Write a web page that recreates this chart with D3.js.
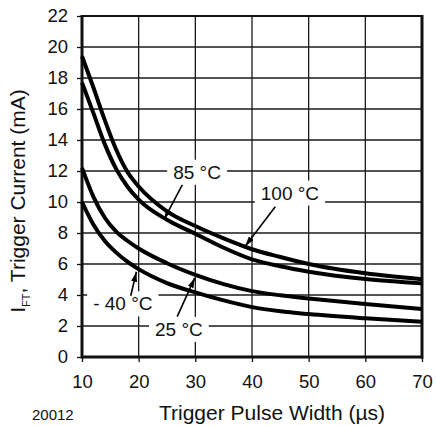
<!DOCTYPE html>
<html><head><meta charset="utf-8">
<script src="https://cdn.jsdelivr.net/npm/d3@7/dist/d3.min.js"></script>
<style>body{margin:0;background:#fff}svg{display:block}text{font-family:"Liberation Sans",Arial,Helvetica,sans-serif;fill:#111}</style>
</head><body><svg id="c" width="436" height="426"></svg>
<script>
const pulseWidth = [10,12,14,16,18,20,25,30,35,40,45,50,60,70];
const current100 = [19.4,17.4,15.3,13.4,11.95,11.0,9.4,8.45,7.65,6.95,6.45,6.0,5.4,5.02];
const current85  = [17.7,15.75,13.75,12.15,11.0,10.15,8.85,7.95,7.05,6.3,5.85,5.5,5.03,4.75];
const current25  = [12.2,10.35,9.0,8.1,7.5,7.0,6.05,5.3,4.7,4.25,3.98,3.78,3.42,3.1];
const currentM40 = [10.0,8.55,7.5,6.75,6.15,5.67,4.77,4.17,3.65,3.22,2.95,2.77,2.5,2.28];
const xTicks = [10,20,30,40,50,60,70];
const yTicks = [0,2,4,6,8,10,12,14,16,18,20,22];
const labelText = ["100 °C","85 °C","25 °C","- 40 °C"];
const labelX = [46.7,30.3,27.1,17.2];
const labelY = [10.6,11.94,1.8,3.45];
const arrowFromX = [44.1,27.7,26.8,18.6];
const arrowFromY = [9.7,11.1,2.6,3.95];
const arrowToX = [38.8,24.5,29.9,19.6];
const arrowToY = [7.15,8.9,5.1,5.5];

const W=436,H=426,m={l:82,r:14,t:16,b:69};
const svg=d3.select("#c");
const x=d3.scaleLinear().domain([10,70]).range([m.l,W-m.r]);
const y=d3.scaleLinear().domain([0,22]).range([H-m.b,m.t]);

// grid
const g=svg.append("g");
g.selectAll(".vx").data(xTicks.slice(1,-1)).join("line")
 .attr("x1",d=>x(d)).attr("x2",d=>x(d)).attr("y1",y(0)).attr("y2",y(22))
 .attr("stroke","#1a1a1a").attr("stroke-width",1.3);
g.selectAll(".hy").data(yTicks.slice(1,-1)).join("line")
 .attr("y1",d=>y(d)).attr("y2",d=>y(d)).attr("x1",x(10)).attr("x2",x(70))
 .attr("stroke","#1a1a1a").attr("stroke-width",1.3);

// axes
const xa=svg.append("g").attr("transform",`translate(0,${y(0)})`)
 .call(d3.axisBottom(x).tickValues(xTicks).tickSize(5).tickPadding(13).tickSizeOuter(0));
const ya=svg.append("g").attr("transform",`translate(${x(10)},0)`)
 .call(d3.axisLeft(y).tickValues(yTicks).tickSize(5).tickPadding(9).tickSizeOuter(0));
[xa,ya].forEach(a=>{a.select(".domain").remove();a.selectAll("line").attr("stroke","#111").attr("stroke-width",1.3);
 a.selectAll("text").attr("font-size",18.5).attr("font-family","Liberation Sans, Arial, sans-serif").attr("fill","#111");});

// frame
svg.append("line").attr("x1",x(10)).attr("x2",x(70)).attr("y1",y(22)).attr("y2",y(22)).attr("stroke","#111").attr("stroke-width",2.2);
svg.append("line").attr("x1",x(10)).attr("x2",x(70)).attr("y1",y(0)).attr("y2",y(0)).attr("stroke","#111").attr("stroke-width",3);
svg.append("line").attr("x1",x(10)).attr("x2",x(10)).attr("y1",y(0)+1.5).attr("y2",y(22)-1).attr("stroke","#111").attr("stroke-width",3);
svg.append("line").attr("x1",x(70)).attr("x2",x(70)).attr("y1",y(0)+1.5).attr("y2",y(22)-1).attr("stroke","#111").attr("stroke-width",3);

// label boxes
const lg=svg.append("g");
labelText.forEach((t,i)=>{
  const tx=lg.append("text").attr("x",x(labelX[i])).attr("y",y(labelY[i])).attr("dy","0.36em")
    .attr("text-anchor","middle").attr("font-size",19).text(t);
  const b=tx.node().getBBox();
  lg.insert("rect","text").attr("x",b.x-6).attr("y",b.y-2).attr("width",b.width+12).attr("height",b.height+4).attr("fill","#fff");
});

// curves
const series=[current100,current85,current25,currentM40];
const line=d3.line().x((d,i)=>x(pulseWidth[i])).y(d=>y(d)).curve(d3.curveMonotoneX);
svg.append("g").selectAll("path").data(series).join("path")
 .attr("d",line).attr("fill","none").attr("stroke","#000").attr("stroke-width",4).attr("stroke-linejoin","round");

// arrows
svg.append("defs").append("marker").attr("id","ah").attr("viewBox","0 0 10 6").attr("refX",10).attr("refY",3)
 .attr("markerWidth",10).attr("markerHeight",6).attr("markerUnits","userSpaceOnUse").attr("orient","auto")
 .append("path").attr("d","M0,0L10,3L0,6Z").attr("fill","#000");
svg.append("g").selectAll("line").data(labelText).join("line")
 .attr("x1",(d,i)=>x(arrowFromX[i])).attr("y1",(d,i)=>y(arrowFromY[i]))
 .attr("x2",(d,i)=>x(arrowToX[i])).attr("y2",(d,i)=>y(arrowToY[i]))
 .attr("stroke","#000").attr("stroke-width",1.6).attr("marker-end","url(#ah)");

// titles
svg.append("text").attr("x",272).attr("y",420).attr("text-anchor","middle").attr("font-size",21).text("Trigger Pulse Width (µs)");
svg.append("text").attr("x",32).attr("y",420).attr("font-size",15).text("20012");
const yt=svg.append("text").attr("transform","translate(25,201) rotate(-90)").attr("text-anchor","middle").attr("font-size",21);
yt.append("tspan").text("I");
yt.append("tspan").attr("font-size",11).attr("dy",5).text("FT");
yt.append("tspan").attr("dy",-5).text(", Trigger Current (mA)");
</script></body></html>
